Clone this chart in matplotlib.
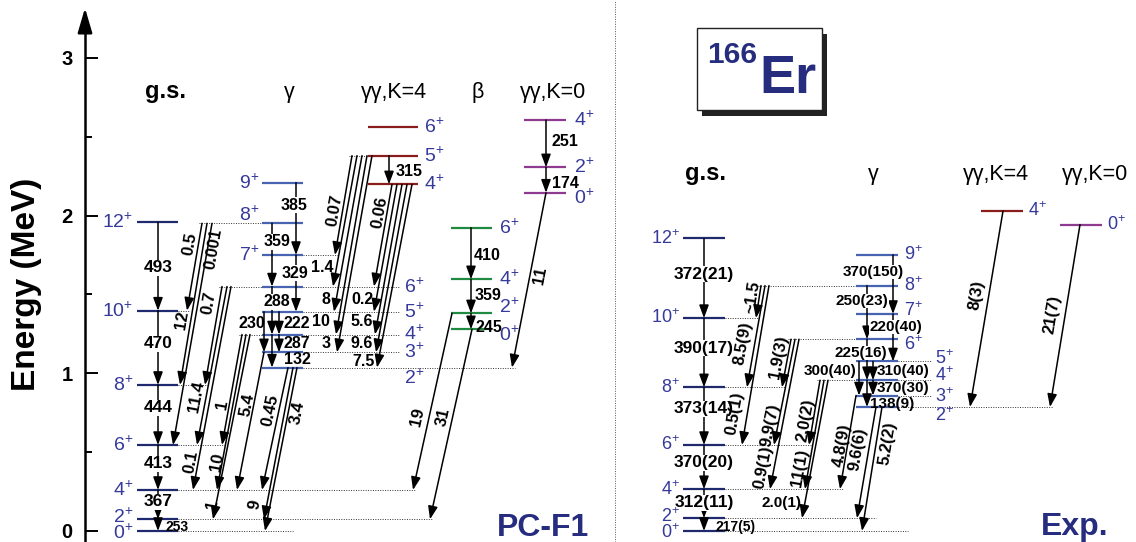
import math

import matplotlib
matplotlib.use("Agg")
import matplotlib.pyplot as plt
from matplotlib.patches import Rectangle

plt.rcParams["font.family"] = ["Liberation Sans", "DejaVu Sans"]
plt.rcParams["mathtext.default"] = "regular"

W, H = 1136, 542
Y0, PX = 531.0, 157.7  # pixel row of 0 MeV and pixels per MeV in the target


def ey(py):
    """pixel row -> energy (MeV), used only to place annotations"""
    return (Y0 - py) / PX


# ---------------- level energies (MeV) ----------------
PC_GS_J = [0, 2, 4, 6, 8, 10, 12]
PC_GS_E = [0.0, 0.074, 0.260, 0.545, 0.926, 1.397, 1.957]
PC_GAM_J = [2, 3, 4, 5, 6, 7, 8, 9]
PC_GAM_E = [1.036, 1.133, 1.246, 1.390, 1.550, 1.750, 1.951, 2.209]
PC_K4_J = [4, 5, 6]
PC_K4_E = [2.198, 2.380, 2.564]
PC_BETA_J = [0, 2, 4, 6]
PC_BETA_E = [1.279, 1.380, 1.596, 1.923]
PC_K0_J = [0, 2, 4]
PC_K0_E = [2.145, 2.306, 2.606]

EXP_GS_J = [0, 2, 4, 6, 8, 10, 12]
EXP_GS_E = [0.0, 0.081, 0.265, 0.545, 0.911, 1.350, 1.855]
EXP_GAM_J = [2, 3, 4, 5, 6, 7, 8, 9]
EXP_GAM_E = [0.786, 0.859, 0.956, 1.075, 1.216, 1.376, 1.556, 1.751]
EXP_K4_J = [4]
EXP_K4_E = [2.029]
EXP_K0_J = [0]
EXP_K0_E = [1.943]

# ---------------- transitions: (band, J, band, J, B(E2) label) ----------------
PC_TRANS = [
    ("pc_gs", 12, "pc_gs", 10, "493"), ("pc_gs", 10, "pc_gs", 8, "470"),
    ("pc_gs", 8, "pc_gs", 6, "444"), ("pc_gs", 6, "pc_gs", 4, "413"),
    ("pc_gs", 4, "pc_gs", 2, "367"), ("pc_gs", 2, "pc_gs", 0, "253"),
    ("pc_gam", 9, "pc_gam", 7, "385"), ("pc_gam", 8, "pc_gam", 6, "359"),
    ("pc_gam", 7, "pc_gam", 5, "329"), ("pc_gam", 6, "pc_gam", 4, "288"),
    ("pc_gam", 5, "pc_gam", 3, "230"), ("pc_gam", 5, "pc_gam", 4, "222"),
    ("pc_gam", 4, "pc_gam", 3, "287"), ("pc_gam", 4, "pc_gam", 2, "132"),
    ("pc_gam", 8, "pc_gs", 10, "0.5"), ("pc_gam", 8, "pc_gs", 8, "12"),
    ("pc_gam", 8, "pc_gs", 6, "0.001"), ("pc_gam", 6, "pc_gs", 8, "0.7"),
    ("pc_gam", 6, "pc_gs", 6, "11.4"), ("pc_gam", 6, "pc_gs", 4, "0.1"),
    ("pc_gam", 4, "pc_gs", 6, "1"), ("pc_gam", 4, "pc_gs", 4, "10"),
    ("pc_gam", 4, "pc_gs", 2, "1"), ("pc_gam", 3, "pc_gs", 4, "5.4"),
    ("pc_gam", 2, "pc_gs", 4, "0.45"), ("pc_gam", 2, "pc_gs", 2, "9"),
    ("pc_gam", 2, "pc_gs", 0, "3.4"),
    ("pc_k4", 5, "pc_k4", 4, "315"),
    ("pc_k4", 5, "pc_gam", 7, "0.07"), ("pc_k4", 5, "pc_gam", 6, "1.4"),
    ("pc_k4", 5, "pc_gam", 5, "8"), ("pc_k4", 5, "pc_gam", 4, "10"),
    ("pc_k4", 5, "pc_gam", 3, "3"),
    ("pc_k4", 4, "pc_gam", 6, "0.06"), ("pc_k4", 4, "pc_gam", 5, "0.2"),
    ("pc_k4", 4, "pc_gam", 4, "5.6"), ("pc_k4", 4, "pc_gam", 3, "9.6"),
    ("pc_k4", 4, "pc_gam", 2, "7.5"),
    ("pc_beta", 6, "pc_beta", 4, "410"), ("pc_beta", 4, "pc_beta", 2, "359"),
    ("pc_beta", 2, "pc_beta", 0, "245"),
    ("pc_beta", 2, "pc_gs", 4, "19"), ("pc_beta", 0, "pc_gs", 2, "31"),
    ("pc_k0", 4, "pc_k0", 2, "251"), ("pc_k0", 2, "pc_k0", 0, "174"),
    ("pc_k0", 0, "pc_gam", 2, "11"),
]

EXP_TRANS = [
    ("exp_gs", 12, "exp_gs", 10, "372(21)"), ("exp_gs", 10, "exp_gs", 8, "390(17)"),
    ("exp_gs", 8, "exp_gs", 6, "373(14)"), ("exp_gs", 6, "exp_gs", 4, "370(20)"),
    ("exp_gs", 4, "exp_gs", 2, "312(11)"), ("exp_gs", 2, "exp_gs", 0, "217(5)"),
    ("exp_gam", 9, "exp_gam", 7, "370(150)"), ("exp_gam", 8, "exp_gam", 6, "250(23)"),
    ("exp_gam", 7, "exp_gam", 5, "220(40)"), ("exp_gam", 6, "exp_gam", 4, "225(16)"),
    ("exp_gam", 5, "exp_gam", 3, "300(40)"), ("exp_gam", 5, "exp_gam", 4, "310(40)"),
    ("exp_gam", 4, "exp_gam", 3, "370(30)"), ("exp_gam", 4, "exp_gam", 2, "138(9)"),
    ("exp_gam", 8, "exp_gs", 10, "~1.5"), ("exp_gam", 8, "exp_gs", 8, "8.5(9)"),
    ("exp_gam", 8, "exp_gs", 6, "0.5(1)"), ("exp_gam", 6, "exp_gs", 8, "1.9(3)"),
    ("exp_gam", 6, "exp_gs", 6, "9.9(7)"), ("exp_gam", 6, "exp_gs", 4, "0.9(1)"),
    ("exp_gam", 4, "exp_gs", 6, "2.0(2)"), ("exp_gam", 4, "exp_gs", 4, "11(1)"),
    ("exp_gam", 4, "exp_gs", 2, "2.0(1)"), ("exp_gam", 3, "exp_gs", 4, "4.8(9)"),
    ("exp_gam", 2, "exp_gs", 2, "9.6(6)"), ("exp_gam", 2, "exp_gs", 0, "5.2(2)"),
    ("exp_k4", 4, "exp_gam", 2, "8(3)"), ("exp_k0", 0, "exp_gam", 2, "21(7)"),
]

# ---------------- layout (pixel x positions, label anchors) ----------------
LEVELS = {
    "pc_gs": (PC_GS_J, PC_GS_E), "pc_gam": (PC_GAM_J, PC_GAM_E),
    "pc_k4": (PC_K4_J, PC_K4_E), "pc_beta": (PC_BETA_J, PC_BETA_E),
    "pc_k0": (PC_K0_J, PC_K0_E),
    "exp_gs": (EXP_GS_J, EXP_GS_E), "exp_gam": (EXP_GAM_J, EXP_GAM_E),
    "exp_k4": (EXP_K4_J, EXP_K4_E), "exp_k0": (EXP_K0_J, EXP_K0_E),
}
BAND_X = {
    "pc_gs": (137, 178), "pc_gam": (262, 303), "pc_k4": (368, 418),
    "pc_beta": (451, 492), "pc_k0": (524, 566),
    "exp_gs": (683, 725), "exp_gam": (856, 898), "exp_k4": (981, 1023),
    "exp_k0": (1060, 1102),
}
GS_C, GAM_C, K4_C, BETA_C, K0_C = "#1f2a6e", "#4664b2", "#8b1c1c", "#1f8a40", "#8e3a90"
BAND_COLOR = {
    "pc_gs": GS_C, "pc_gam": GAM_C, "pc_k4": K4_C, "pc_beta": BETA_C, "pc_k0": K0_C,
    "exp_gs": GS_C, "exp_gam": GAM_C, "exp_k4": K4_C, "exp_k0": K0_C,
}
# spin label: default (ha, x), overrides J -> (ha, x, dy px)
SPIN_POS = {
    "pc_gs": ("right", 133, {2: ("right", 133, -2), 0: ("right", 133, 2)}),
    "pc_gam": ("left", 404, {7: ("right", 259, 0), 8: ("right", 259, -8),
                             9: ("right", 259, 0), 2: ("left", 404, 10)}),
    "pc_k4": ("left", 424, {}),
    "pc_beta": ("left", 499, {2: ("left", 499, -6), 0: ("left", 499, 6)}),
    "pc_k0": ("left", 574, {0: ("left", 574, 5)}),
    "exp_gs": ("right", 680, {2: ("right", 680, -2), 0: ("right", 680, 2)}),
    "exp_gam": ("left", 904, {7: ("left", 904, -3), 6: ("left", 904, 5),
                              5: ("left", 935, -3), 4: ("left", 935, -5),
                              3: ("left", 935, 1), 2: ("left", 935, 9)}),
    "exp_k4": ("left", 1028, {}),
    "exp_k0": ("left", 1107, {}),
}
DOT_EXTRA = {("pc_gs", 0): 290, ("exp_gs", 0): 905, ("exp_gs", 2): 873}

PC_X = [(158, 158)] * 6 + [
    (296, 296), (272, 272), (296, 296), (272, 272), (264, 264), (279, 279), (279, 279), (272, 272),
    (202, 187), (207, 180), (212, 173), (222, 205), (227, 197), (231, 193), (242, 222), (246, 217),
    (250, 213), (264, 237), (288, 262), (293, 264), (297, 265),
    (389, 389), (352, 335), (357, 333), (362, 334), (367, 336), (372, 337),
    (392, 374), (397, 374), (402, 375), (407, 376), (412, 377),
    (471, 471), (471, 471), (471, 471), (452, 413), (472, 430),
    (546, 546), (546, 546), (546, 512),
]
PC_LBL = [
    (158, 268, "big"), (158, 344, "big"), (158, 408, "big"), (158, 464, "big"), (158, 502, "big"),
    (165, 527, "s"),
    (294, 205, "box"), (277, 242, "box"), (295, 273, "box"), (277, 302, "box"),
    (252, 323, "c"), (297, 323, "c"), (297, 344, "c"), (297, 360, "c"),
    (190, 244, "rot"), (182, 320, "rot"), (214, 249, "rot"), (209, 303, "rot"), (197, 397, "rot"),
    (191, 462, "rot"), (222, 405, "rot"), (217, 462, "rot"), (212, 505, "rot"), (247, 405, "rot"),
    (270, 410, "rot"), (255, 505, "rot"), (297, 413, "rot"),
    (396, 171, "l"), (335, 210, "rot"), (322, 267, "c"), (326, 299, "c"), (321, 322, "c"),
    (326, 344, "c"), (380, 212, "rot"), (362, 300, "c"), (362, 322, "c"), (362, 344, "c"),
    (364, 362, "c"),
    (474, 255, "l"), (475, 296, "l"), (475, 327, "l"), (418, 417, "rot"), (443, 417, "rot"),
    (551, 142, "l"), (552, 183, "l"), (540, 275, "rot"),
]
EXP_X = [(704, 704)] * 6 + [
    (893, 893), (867, 867), (893, 893), (867, 867), (859, 859), (873, 873), (873, 873), (867, 867),
    (761, 756), (765, 747), (769, 742), (791, 782), (795, 774), (799, 770), (820, 809), (824, 805),
    (828, 802), (856, 840), (876, 857), (882, 862),
    (1003, 970), (1080, 1050),
]
EXP_LBL = [
    (704, 274, "big"), (704, 348, "big"), (704, 409, "big"), (704, 463, "big"), (704, 503, "big"),
    (716, 527, "s"),
    (873, 272, "box"), (862, 301, "box"), (896, 327, "box"), (861, 353, "box"),
    (830, 371, "c"), (903, 371, "c"), (903, 388, "c"), (892, 404, "c"),
    (752, 297, "rot"), (743, 343, "rot"), (735, 413, "rot"), (779, 357, "rot"), (770, 425, "rot"),
    (763, 467, "rot"), (806, 420, "rot"), (800, 468, "rot"), (782, 503, "c"), (842, 445, "rot"),
    (858, 449, "rot"), (888, 443, "rot"),
    (977, 295, "rot"), (1052, 315, "rot"),
]

PANELS = [(PC_TRANS, PC_X, PC_LBL, 11.5), (EXP_TRANS, EXP_X, EXP_LBL, 11)]
NAVY = "#262c7e"
SPIN_C = "#35399a"
WHITE_BOX = dict(boxstyle="square,pad=0.02", fc="white", ec="none")
DOTS = (0, (1, 1.5))


def energy(band, j):
    js, es = LEVELS[band]
    return es[js.index(j)]


fig = plt.figure(figsize=(W / 100, H / 100), dpi=100)
ax = fig.add_axes([0, 0, 1, 1])
ax.set_xlim(0, W)
ax.set_ylim(ey(H), ey(0))

# energy axis drawn with the real left spine
for side in ("top", "right", "bottom"):
    ax.spines[side].set_visible(False)
ax.spines["left"].set_position(("data", 85))
ax.spines["left"].set_linewidth(1.8)
ax.spines["left"].set_bounds(ey(H), ey(26))
ax.set_xticks([])
ax.set_yticks([0, 1, 2, 3])
ax.set_yticks([0.5, 1.5, 2.5], minor=True)
ax.tick_params(axis="y", which="major", direction="in", length=9.5, width=1.4,
               labelsize=14.5, pad=9)
ax.tick_params(axis="y", which="minor", direction="in", length=5, width=1.4)
for t in ax.get_yticklabels():
    t.set_fontweight("bold")
ax.annotate("", xy=(85, ey(8)), xytext=(85, ey(32)),
            arrowprops=dict(arrowstyle="-|>,head_length=0.75,head_width=0.22",
                            mutation_scale=20, color="black", lw=1.8,
                            shrinkA=0, shrinkB=0))
ax.text(27, ey(284), "Energy (MeV)", rotation=90, ha="center", va="center",
        fontsize=24, fontweight="bold")

# panel separator
ax.axvline(615, ls=DOTS, lw=0.7, color="#555555", zorder=1)

# endpoints of inter-band arrows -> dotted guide lines
ends = {}
for trans, xs, _, _ in PANELS:
    for (b0, j0, b1, j1, _), (x0, x1) in zip(trans, xs):
        if b0 != b1:
            ends.setdefault((b0, j0), []).append(x0)
            ends.setdefault((b1, j1), []).append(x1)

# levels, spin labels, dotted lines
for band, (js, es) in LEVELS.items():
    bx0, bx1 = BAND_X[band]
    ha0, lx0, over = SPIN_POS[band]
    fs = 14 if band.startswith("pc") else 13
    for j, e in zip(js, es):
        ha, lx, dy = over.get(j, (ha0, lx0, 0))
        ax.hlines(e, bx0, bx1, color=BAND_COLOR[band], lw=1.6, zorder=2)
        ax.text(lx, e - dy / PX, f"${j}^{{+}}$", ha=ha, va="center",
                fontsize=fs, color=SPIN_C, zorder=7)
        pts = list(ends.get((band, j), []))
        if ha == "left" and lx - bx1 > 20:
            pts.append(lx - 7)
        if (band, j) in DOT_EXTRA:
            pts.append(DOT_EXTRA[(band, j)])
        if pts and max(pts) > bx1 + 1:
            ax.plot([bx1, max(pts) + 3], [e, e], ls=DOTS, lw=0.7,
                    color="#333333", zorder=1)
        if pts and min(pts) < bx0 - 1:
            ax.plot([min(pts) - 3, bx0], [e, e], ls=DOTS, lw=0.7,
                    color="#333333", zorder=1)

# transitions
for trans, xs, lbls, base in PANELS:
    for (b0, j0, b1, j1, txt), (x0, x1), (lx, ly, style) in zip(trans, xs, lbls):
        e0, e1 = energy(b0, j0), energy(b1, j1)
        ax.annotate("", xy=(x1, e1), xytext=(x0, e0),
                    arrowprops=dict(arrowstyle="-|>,head_length=0.65,head_width=0.24",
                                    mutation_scale=12, color="black", lw=1.1,
                                    shrinkA=0, shrinkB=0), zorder=3)
        y = ey(ly)
        kw = dict(fontweight="bold", color="black", zorder=6)
        if style == "big":
            ax.text(lx, y, txt, ha="center", va="center", fontsize=12.5,
                    bbox=WHITE_BOX, **kw)
        elif style == "box":
            ax.text(lx, y, txt, ha="center", va="center", fontsize=base,
                    bbox=WHITE_BOX, **kw)
        elif style == "c":
            ax.text(lx, y, txt, ha="center", va="center", fontsize=base, **kw)
        elif style == "l":
            ax.text(lx, y, txt, ha="left", va="center", fontsize=base, **kw)
        elif style == "s":
            ax.text(lx, y, txt, ha="left", va="center", fontsize=10, **kw)
        else:
            ang = math.degrees(math.atan2((e0 - e1) * PX, x0 - x1))
            ax.text(lx, y, txt, ha="center", va="center", fontsize=12,
                    rotation=ang, rotation_mode="anchor", **kw)

# band headings
PC_TITLES = ["g.s.", "γ", "γγ,K=4", "β", "γγ,K=0"]
PC_TITLE_X = [166, 289, 394, 478, 553]
EXP_TITLES = ["g.s.", "γ", "γγ,K=4", "γγ,K=0"]
EXP_TITLE_X = [706, 873, 996, 1095]
for titles, txs, base_y in ((PC_TITLES, PC_TITLE_X, 98), (EXP_TITLES, EXP_TITLE_X, 180)):
    for t, tx in zip(titles, txs):
        bold = t == "g.s."
        ax.text(tx, ey(base_y), t, ha="center", va="baseline",
                fontsize=17 if bold else 15.5,
                fontweight="bold" if bold else "normal", zorder=4)

ax.text(543, ey(536), "PC-F1", ha="center", va="baseline", fontsize=23,
        fontweight="bold", color=NAVY)
ax.text(1075, ey(535), "Exp.", ha="center", va="baseline", fontsize=23,
        fontweight="bold", color=NAVY)

# nucleus label box with drop shadow
ax.add_patch(Rectangle((702, ey(116)), 125, (116 - 34) / PX, fc="#222222",
                       ec="none", zorder=4))
ax.add_patch(Rectangle((697, ey(110)), 125, (110 - 28) / PX, fc="white",
                       ec="#222222", lw=1.0, zorder=5))
ax.text(707, ey(63), "166", ha="left", va="baseline", fontsize=21.5,
        fontweight="bold", color=NAVY, zorder=6)
ax.text(759, ey(93), "Er", ha="left", va="baseline", fontsize=39,
        fontweight="bold", color=NAVY, zorder=6)

fig.savefig("out.png", dpi=100)
